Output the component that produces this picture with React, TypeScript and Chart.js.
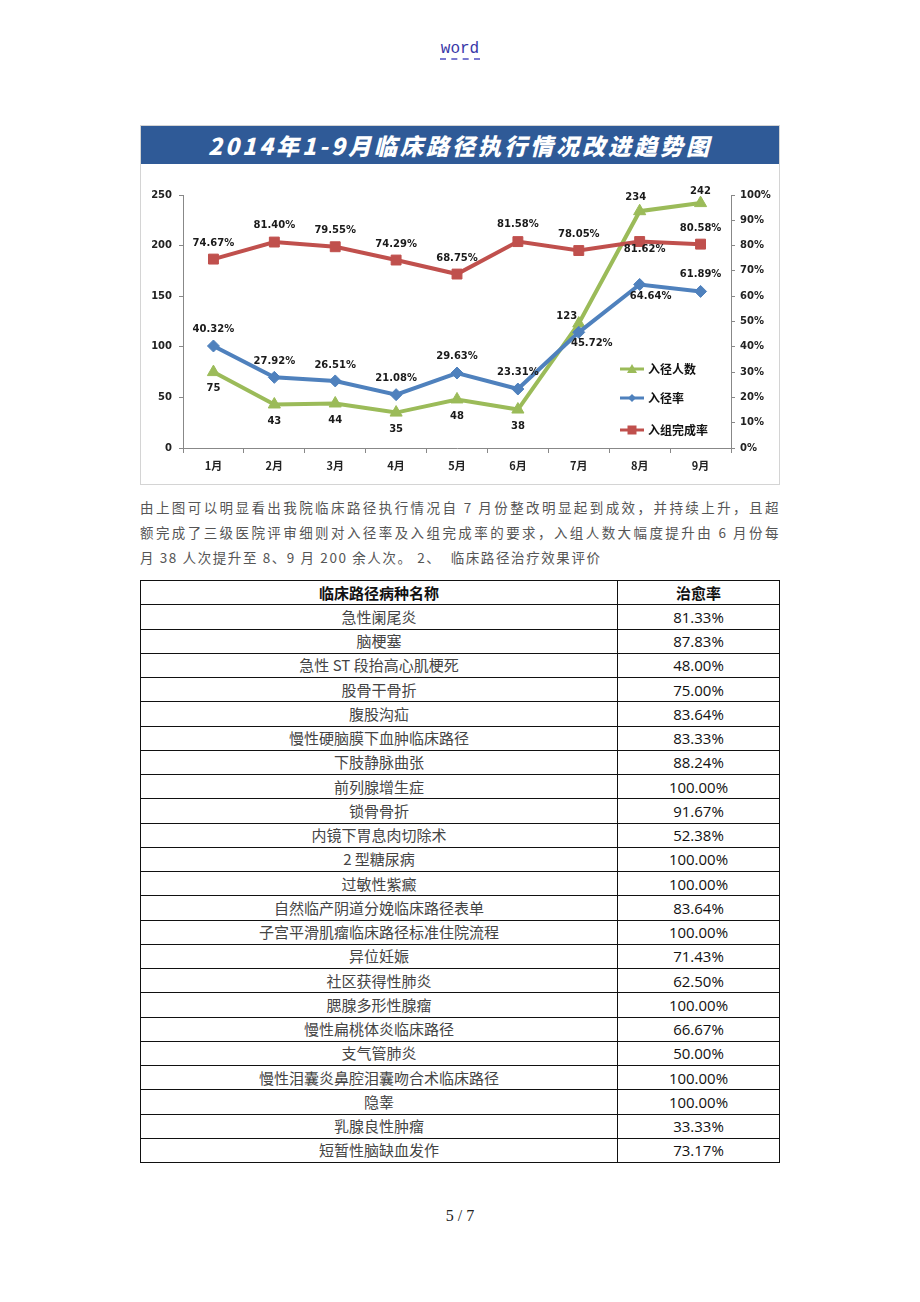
import React, { useEffect, useRef } from 'react';
import { Chart, registerables } from 'chart.js';

Chart.register(...registerables);

// ---------- data ----------
const MONTHS = ['1月', '2月', '3月', '4月', '5月', '6月', '7月', '8月', '9月'];
const ENROLLED = [75, 43, 44, 35, 48, 38, 123, 234, 242];
const ENROLL_RATE = [40.32, 27.92, 26.51, 21.08, 29.63, 23.31, 45.72, 64.64, 61.89];
const COMPLETE_RATE = [74.67, 81.4, 79.55, 74.29, 68.75, 81.58, 78.05, 81.62, 80.58];

const SERIES_NAMES = ['入径人数', '入径率', '入组完成率'];
const LEFT_MAX = 250;
const LEFT_STEP = 50;
const RIGHT_MAX = 100;
const RIGHT_STEP = 10;

const CHART_TITLE = '2014年1-9月临床路径执行情况改进趋势图';

const PARAGRAPH_LINES = [
  '由上图可以明显看出我院临床路径执行情况自 7 月份整改明显起到成效，并持续上升，且超',
  '额完成了三级医院评审细则对入径率及入组完成率的要求，入组人数大幅度提升由 6 月份每',
  '月 38 人次提升至 8、9 月 200 余人次。 2、  临床路径治疗效果评价',
];

const TABLE_HEADERS = ['临床路径病种名称', '治愈率'];
const DISEASES = [
  '急性阑尾炎', '脑梗塞', '急性 ST 段抬高心肌梗死', '股骨干骨折', '腹股沟疝',
  '慢性硬脑膜下血肿临床路径', '下肢静脉曲张', '前列腺增生症', '锁骨骨折',
  '内镜下胃息肉切除术', '2 型糖尿病', '过敏性紫癜', '自然临产阴道分娩临床路径表单',
  '子宫平滑肌瘤临床路径标准住院流程', '异位妊娠', '社区获得性肺炎', '腮腺多形性腺瘤',
  '慢性扁桃体炎临床路径', '支气管肺炎', '慢性泪囊炎鼻腔泪囊吻合术临床路径', '隐睾',
  '乳腺良性肿瘤', '短暂性脑缺血发作',
];
const CURE_RATES = [
  '81.33%', '87.83%', '48.00%', '75.00%', '83.64%', '83.33%', '88.24%', '100.00%',
  '91.67%', '52.38%', '100.00%', '100.00%', '83.64%', '100.00%', '71.43%', '62.50%',
  '100.00%', '66.67%', '50.00%', '100.00%', '100.00%', '33.33%', '73.17%',
];

// label offsets (dx, dy) relative to each point — styling, not data
const LABEL_OFFSETS = [
  [[0, 16], [0, 17], [0, 17], [0, 17], [0, 17], [0, 17], [-12, -7], [-4, -14], [0, -12]],
  [[0, -17], [0, -16], [0, -16], [0, -16], [0, -17], [0, -17], [13, 11], [11, 12], [0, -17]],
  [[0, -16], [0, -17], [0, -16], [0, -16], [0, -16], [0, -17], [0, -16], [5, 8], [0, -16]],
];

const GREEN = '#9bbb59';
const BLUE = '#4f81bd';
const RED = '#c0504d';

const fmtPct = (v: number) => v.toFixed(2) + '%';

const labelPlugin = {
  id: 'pointLabels',
  afterDatasetsDraw(chart: any) {
    const ctx = chart.ctx;
    ctx.save();
    ctx.font = 'bold 10px "DejaVu Sans", Verdana, sans-serif';
    ctx.fillStyle = '#1a1a1a';
    ctx.textAlign = 'center';
    ctx.textBaseline = 'middle';
    chart.data.datasets.forEach((ds: any, di: number) => {
      const meta = chart.getDatasetMeta(di);
      meta.data.forEach((pt: any, i: number) => {
        const v = ds.data[i];
        const text = di === 0 ? String(v) : fmtPct(v);
        const [dx, dy] = LABEL_OFFSETS[di][i];
        ctx.fillText(text, pt.x + dx, pt.y + dy);
      });
    });
    ctx.restore();
  },
};

const legendPlugin = {
  id: 'innerLegend',
  afterDraw(chart: any) {
    const ctx = chart.ctx;
    const rows = [205, 234, 266];
    const x0 = 479;
    const x1 = 503;
    ctx.save();
    chart.data.datasets.forEach((ds: any, di: number) => {
      const y = rows[di];
      ctx.strokeStyle = ds.borderColor;
      ctx.lineWidth = 3;
      ctx.beginPath();
      ctx.moveTo(x0, y);
      ctx.lineTo(x1, y);
      ctx.stroke();
      const cx = (x0 + x1) / 2;
      ctx.fillStyle = ds.borderColor;
      ctx.beginPath();
      if (di === 0) {
        ctx.moveTo(cx, y - 5);
        ctx.lineTo(cx + 5, y + 4);
        ctx.lineTo(cx - 5, y + 4);
        ctx.closePath();
      } else if (di === 1) {
        ctx.moveTo(cx, y - 4);
        ctx.lineTo(cx + 4, y);
        ctx.lineTo(cx, y + 4);
        ctx.lineTo(cx - 4, y);
        ctx.closePath();
      } else {
        ctx.rect(cx - 4.5, y - 4.5, 9, 9);
      }
      ctx.fill();
      ctx.fillStyle = '#111';
      ctx.font = 'bold 12px "Noto Sans CJK SC", sans-serif';
      ctx.textAlign = 'left';
      ctx.textBaseline = 'middle';
      ctx.fillText(ds.label, x1 + 4, y);
    });
    ctx.restore();
  },
};

function TrendChart() {
  const ref = useRef<HTMLCanvasElement | null>(null);
  useEffect(() => {
    if (!ref.current) return;
    const tickFont = { family: '"DejaVu Sans", Verdana, sans-serif', size: 10, weight: 'bold' as const };
    const chart = new Chart(ref.current, {
      type: 'line',
      data: {
        labels: MONTHS,
        datasets: [
          {
            label: SERIES_NAMES[0],
            data: ENROLLED,
            yAxisID: 'yL',
            borderColor: GREEN,
            backgroundColor: GREEN,
            borderWidth: 4,
            pointStyle: 'triangle',
            pointRadius: 7,
            pointBorderWidth: 1,
            pointBorderColor: GREEN,
            tension: 0,
            order: 2,
          },
          {
            label: SERIES_NAMES[1],
            data: ENROLL_RATE,
            yAxisID: 'yR',
            borderColor: BLUE,
            backgroundColor: BLUE,
            borderWidth: 4,
            pointStyle: 'rectRot',
            pointRadius: 6,
            pointBorderWidth: 1,
            pointBorderColor: BLUE,
            tension: 0,
            order: 1,
          },
          {
            label: SERIES_NAMES[2],
            data: COMPLETE_RATE,
            yAxisID: 'yR',
            borderColor: RED,
            backgroundColor: RED,
            borderWidth: 4,
            pointStyle: 'rect',
            pointRadius: 7,
            pointBorderWidth: 1,
            pointBorderColor: RED,
            tension: 0,
            order: 0,
          },
        ],
      },
      options: {
        animation: false,
        responsive: false,
        maintainAspectRatio: false,
        layout: { padding: { top: 31, left: 0, right: 0, bottom: 0 } },
        plugins: { legend: { display: false }, tooltip: { enabled: false } },
        scales: {
          x: {
            type: 'category',
            offset: true,
            grid: { display: true, drawOnChartArea: false, offset: true, tickLength: 5, color: '#888' },
            border: { color: '#888' },
            ticks: {
              color: '#222',
              padding: 6,
              font: { family: '"Noto Sans CJK SC", sans-serif', size: 11, weight: 'bold' },
            },
            afterFit: (s: any) => { s.height = 36; },
          },
          yL: {
            type: 'linear',
            position: 'left',
            min: 0,
            max: LEFT_MAX,
            ticks: { stepSize: LEFT_STEP, color: '#222', padding: 7, font: tickFont },
            grid: { drawOnChartArea: false, tickLength: 4, color: '#888' },
            border: { color: '#888' },
            afterFit: (s: any) => { s.width = 42; },
          },
          yR: {
            type: 'linear',
            position: 'right',
            min: 0,
            max: RIGHT_MAX,
            ticks: { stepSize: RIGHT_STEP, color: '#222', padding: 5, font: tickFont, callback: (v: any) => v + '%' },
            grid: { drawOnChartArea: false, tickLength: 4, color: '#888' },
            border: { color: '#888' },
            afterFit: (s: any) => { s.width = 48; },
          },
        },
      },
      plugins: [labelPlugin, legendPlugin],
    } as any);
    return () => chart.destroy();
  }, []);
  return <canvas ref={ref} width={638} height={320} style={{ display: 'block', width: 638, height: 320 }} />;
}

export default function App() {
  const abs = (s: React.CSSProperties): React.CSSProperties => ({ position: 'absolute', ...s });
  return (
    <div style={{ position: 'absolute', left: 0, top: 0, width: 920, height: 1302, background: '#fff', overflow: 'hidden' }}>
      <div
        style={abs({
          left: 440, top: 40, width: 40, textAlign: 'center',
          fontFamily: '"Liberation Mono", monospace', fontSize: 16, color: '#3838a8', lineHeight: '18px',
          borderBottom: '2px dashed #7a7ad0',
        })}
      >
        word
      </div>

      {/* chart box */}
      <div style={abs({ left: 140, top: 125, width: 638, height: 358, border: '1px solid #d4d4d4', background: '#fff' })}>
        <div
          style={{
            height: 38, background: '#2f5a97', color: '#fff', textAlign: 'center',
            fontFamily: '"Noto Sans CJK SC", sans-serif', fontWeight: 900, fontStyle: 'italic',
            fontSize: 23, lineHeight: '38px', letterSpacing: 3,
          }}
        >
          {CHART_TITLE}
        </div>
        <TrendChart />
      </div>

      {/* paragraph */}
      {PARAGRAPH_LINES.map((line, i) => (
        <div
          key={i}
          style={abs({
            left: 140, top: 497 + i * 25, width: i < 2 ? 640 : 'auto', height: 20, lineHeight: '20px',
            fontFamily: '"Noto Sans CJK SC", serif', fontSize: 13.5, color: '#555',
            whiteSpace: 'pre', letterSpacing: 1.6,
            textAlign: i < 2 ? 'justify' : 'left', textAlignLast: i < 2 ? 'justify' : 'auto',
          })}
        >
          {line}
        </div>
      ))}

      {/* table */}
      <table
        style={abs({
          left: 140, top: 580, width: 639, borderCollapse: 'collapse', tableLayout: 'fixed',
        })}
      >
        <colgroup>
          <col style={{ width: 477 }} />
          <col style={{ width: 162 }} />
        </colgroup>
        <tbody>
          <tr style={{ height: 24.25 }}>
            {TABLE_HEADERS.map((h, i) => (
              <td
                key={i}
                style={{
                  border: '1px solid #111', padding: 0, textAlign: 'center',
                  fontFamily: '"Noto Sans CJK SC", sans-serif', fontWeight: 'bold', fontSize: 15,
                  color: '#111', lineHeight: '22px',
                }}
              >
                {h}
              </td>
            ))}
          </tr>
          {DISEASES.map((d, i) => (
            <tr key={i} style={{ height: 24.25 }}>
              <td
                style={{
                  border: '1px solid #111', padding: 0, textAlign: 'center',
                  fontFamily: '"Noto Sans CJK SC", serif', fontSize: 15, color: '#444', lineHeight: '22px',
                }}
              >
                {d}
              </td>
              <td
                style={{
                  border: '1px solid #111', padding: 0, textAlign: 'center',
                  fontFamily: '"Open Sans", "Noto Sans", sans-serif', fontSize: 15, color: '#111', lineHeight: '22px',
                }}
              >
                {CURE_RATES[i]}
              </td>
            </tr>
          ))}
        </tbody>
      </table>

      <div
        style={abs({
          left: 410, top: 1206, width: 100, textAlign: 'center',
          fontFamily: '"Liberation Serif", serif', fontSize: 16, color: '#222', lineHeight: '20px',
        })}
      >
        5 / 7
      </div>
    </div>
  );
}
